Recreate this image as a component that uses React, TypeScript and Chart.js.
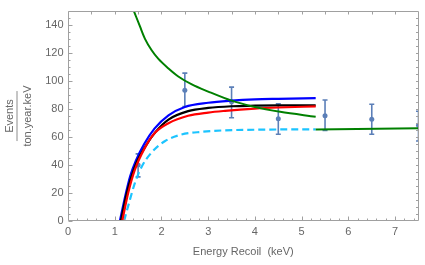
import React, { useEffect, useRef } from "react";
import { Chart, registerables } from "chart.js";

Chart.register(...registerables);

// ---- Axis ticks ----
const X_TICKS = [0, 1, 2, 3, 4, 5, 6, 7];
const Y_TICKS = [0, 20, 40, 60, 80, 100, 120, 140];

// ---- Curves ----
const BLUE_X = [1.11, 1.24, 1.33, 1.45, 1.63, 1.85, 2.15, 2.5, 3.0, 3.5, 4.0, 4.5, 5.3];
const BLUE_Y = [0, 20, 32, 43, 55, 66, 75.5, 81.5, 84.5, 86, 86.9, 87.3, 87.8];

const BLACK_X = [1.13, 1.25, 1.35, 1.47, 1.65, 1.87, 2.15, 2.57, 3.0, 3.5, 4.0, 4.5, 5.3];
const BLACK_Y = [0, 19, 31, 42, 53, 63.5, 72.5, 78.5, 80.8, 82.0, 82.4, 82.6, 82.7];

const RED_X = [1.16, 1.29, 1.43, 1.65, 1.86, 2.15, 2.57, 3.0, 3.36, 4.0, 4.5, 5.3];
const RED_Y = [0, 20.3, 36.5, 52.6, 63, 69.9, 75.2, 77.5, 78.7, 80.3, 81.1, 81.9];

const CYAN_X = [1.2, 1.29, 1.43, 1.58, 1.79, 2.07, 2.43, 2.86, 3.36, 4.0, 4.5, 5.3];
const CYAN_Y = [0, 11, 27, 39, 49, 57, 61.8, 63.7, 64.8, 65.2, 65.4, 65.5];

const GREEN_X = [1.41, 1.54, 1.65, 1.79, 1.93, 2.15, 2.36, 2.65, 3.0, 3.5, 4.0, 4.54, 5.3];
const GREEN_Y = [150, 139, 130, 122, 116, 109, 103.3, 97.6, 92.5, 86, 81.5, 78, 74.5];

const GREEN_FLAT_X = [5.3, 7.5];
const GREEN_FLAT_Y = [65.3, 66.3];

// ---- Measured data with error bars ----
const DATA_X = [1.5, 2.5, 3.5, 4.5, 5.5, 6.5, 7.5];
const DATA_Y = [40, 93.5, 85.3, 73, 75.3, 72.8, 68.5];
const DATA_LO = [31.5, 81.8, 73.8, 62, 64.7, 62, 57.2];
const DATA_HI = [48, 105.7, 95.7, 83.7, 86.5, 83.4, 78.4];

const Y_TITLE = ["Events", "ton.year.keV"];
const X_TITLE = "Energy Recoil  (keV)";

const FONT = "'Liberation Sans', Arial, sans-serif";
const TEXT_COLOR = "#666666";
const FRAME_COLOR = "#a0a0a0";
const ERR_COLOR = "#5b7fb8";

const pts = (xs: number[], ys: number[]) => xs.map((x, i) => ({ x, y: ys[i] }));

const framePlugin = {
  id: "mmaFrame",
  beforeDatasetsDraw(chart: any) {
    const { ctx, chartArea: a, scales } = chart;
    const x = scales.x;
    const y = scales.y;
    ctx.save();
    ctx.beginPath();
    ctx.rect(a.left, a.top, a.right - a.left, a.bottom - a.top);
    ctx.clip();
    ctx.strokeStyle = ERR_COLOR;
    ctx.lineWidth = 1.6;
    DATA_X.forEach((v, i) => {
      const px = x.getPixelForValue(v);
      const pl = y.getPixelForValue(DATA_LO[i]);
      const ph = y.getPixelForValue(DATA_HI[i]);
      ctx.beginPath();
      ctx.moveTo(px, pl);
      ctx.lineTo(px, ph);
      ctx.moveTo(px - 2.5, pl);
      ctx.lineTo(px + 2.5, pl);
      ctx.moveTo(px - 2.5, ph);
      ctx.lineTo(px + 2.5, ph);
      ctx.stroke();
    });
    ctx.restore();
  },
  afterDraw(chart: any) {
    const { ctx, chartArea: a, scales } = chart;
    const x = scales.x;
    const y = scales.y;
    ctx.save();
    ctx.strokeStyle = FRAME_COLOR;
    ctx.lineWidth = 1;
    const L = Math.round(a.left) + 0.5;
    const R = Math.round(a.right) - 0.5;
    const T = Math.round(a.top) + 0.5;
    const B = Math.round(a.bottom) - 0.5;
    ctx.beginPath();
    ctx.moveTo(L, T);
    ctx.lineTo(R, T);
    ctx.lineTo(R, B);
    ctx.lineTo(L, B);
    ctx.closePath();
    ctx.stroke();

    ctx.beginPath();
    for (let k = 0; k <= 37; k++) {
      const px = Math.round(x.getPixelForValue(k * 0.2)) + 0.5;
      const len = k % 5 === 0 ? 4 : 2;
      ctx.moveTo(px, B);
      ctx.lineTo(px, B - len);
    }
    for (let k = 1; k <= 14; k++) {
      const px = Math.round(x.getPixelForValue(k * 0.5)) + 0.5;
      ctx.moveTo(px, T);
      ctx.lineTo(px, T + 3);
    }
    for (let k = 0; k <= 30; k++) {
      const py = Math.round(y.getPixelForValue(k * 5)) + 0.5;
      const len = k % 4 === 0 ? 4 : 2;
      ctx.moveTo(L, py);
      ctx.lineTo(L + len, py);
    }
    for (let k = 1; k <= 29; k++) {
      const py = Math.round(y.getPixelForValue(k * 5)) + 0.5;
      ctx.moveTo(R, py);
      ctx.lineTo(R - 2.5, py);
    }
    ctx.stroke();

    // fraction bar of the y-axis title
    const cy = (a.top + a.bottom) / 2;
    ctx.strokeStyle = "#8c8c8c";
    ctx.beginPath();
    ctx.moveTo(y.left + 17, cy - 25);
    ctx.lineTo(y.left + 17, cy + 25);
    ctx.stroke();
    ctx.restore();
  },
};

export default function App() {
  const ref = useRef<HTMLCanvasElement | null>(null);

  useEffect(() => {
    if (!ref.current) return;
    const curve = (xs: number[], ys: number[], color: string, width: number, dash: number[] = []) => ({
      type: "line" as const,
      data: pts(xs, ys),
      borderColor: color,
      backgroundColor: color,
      borderWidth: width,
      borderDash: dash,
      pointRadius: 0,
      fill: false,
      cubicInterpolationMode: "monotone" as const,
    });

    const chart = new Chart(ref.current, {
      type: "line",
      data: {
        datasets: [
          curve(GREEN_X, GREEN_Y, "#008000", 2),
          curve(GREEN_FLAT_X, GREEN_FLAT_Y, "#008000", 2),
          curve(RED_X, RED_Y, "#ff0000", 2.2),
          curve(BLACK_X, BLACK_Y, "#000000", 2.2),
          curve(BLUE_X, BLUE_Y, "#0000ff", 2.2),
          curve(CYAN_X, CYAN_Y, "#1cc4ff", 2.2, [7, 4]),
          {
            type: "line" as const,
            data: pts(DATA_X, DATA_Y),
            showLine: false,
            pointRadius: 2.5,
            pointBackgroundColor: ERR_COLOR,
            pointBorderWidth: 0,
            borderColor: ERR_COLOR,
          },
        ] as any,
      },
      options: {
        animation: false,
        responsive: true,
        maintainAspectRatio: false,
        layout: { padding: { top: 5, right: 6.5, left: 0, bottom: 0 } },
        plugins: { legend: { display: false }, tooltip: { enabled: false } },
        scales: {
          x: {
            type: "linear",
            min: 0,
            max: 7.5,
            grid: { display: false, drawTicks: false },
            border: { display: false },
            afterBuildTicks: (s: any) => {
              s.ticks = X_TICKS.map((v) => ({ value: v }));
            },
            afterFit: (s: any) => {
              s.height = 44;
            },
            ticks: {
              padding: 4,
              color: TEXT_COLOR,
              font: { family: FONT, size: 11 },
              maxRotation: 0,
              autoSkip: false,
            },
            title: {
              display: true,
              text: X_TITLE,
              color: TEXT_COLOR,
              font: { family: FONT, size: 11 },
              padding: { top: 0, bottom: 6 },
            },
          },
          y: {
            type: "linear",
            min: 0,
            max: 150,
            grid: { display: false, drawTicks: false },
            border: { display: false },
            afterBuildTicks: (s: any) => {
              s.ticks = Y_TICKS.map((v) => ({ value: v }));
            },
            afterFit: (s: any) => {
              s.width = 68;
            },
            ticks: {
              padding: 4.5,
              color: TEXT_COLOR,
              font: { family: FONT, size: 11 },
              autoSkip: false,
            },
            title: {
              display: true,
              text: Y_TITLE,
              color: TEXT_COLOR,
              font: { family: FONT, size: 11, lineHeight: 1.64 },
              padding: { top: 0.5, bottom: 0 },
            },
          },
        },
      } as any,
      plugins: [framePlugin],
    });
    return () => chart.destroy();
  }, []);

  return (
    <div style={{ position: "fixed", left: 0, top: 0, width: 425, height: 265 }}>
      <canvas ref={ref} />
    </div>
  );
}
